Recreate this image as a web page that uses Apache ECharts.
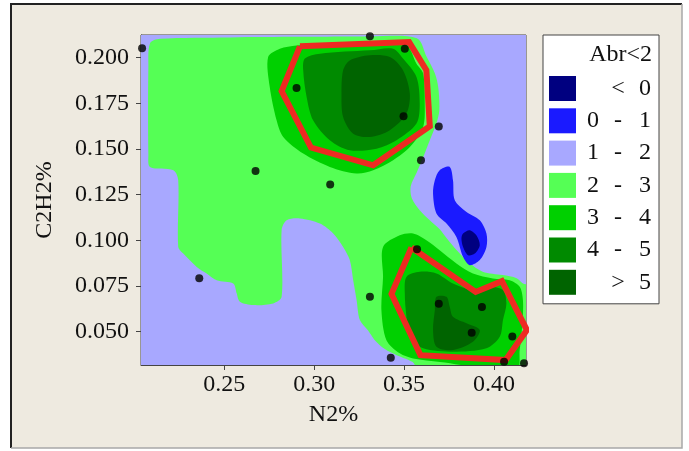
<!DOCTYPE html>
<html>
<head>
<meta charset="utf-8">
<script src="https://cdn.jsdelivr.net/npm/echarts@6/dist/echarts.min.js"></script>
<style>
  html, body { margin: 0; padding: 0; background: #fff; }
  #chart { width: 689px; height: 451px; }
</style>
</head>
<body>
<div id="chart"></div>
<script>
// axis ranges and tick labels
const xRange = [0.2037, 0.4178];
const yRange = [0.0318, 0.2124];
const xTicks = [0.25, 0.30, 0.35, 0.40];
const yTicks = [0.050, 0.075, 0.100, 0.125, 0.150, 0.175, 0.200];

// contour levels (legend order)
const levels = ['< 0', '0 - 1', '1 - 2', '2 - 3', '3 - 4', '4 - 5', '> 5'];
const levelColors = ['#000080', '#1A1AFF', '#A8A8FF', '#55FF55', '#00D000', '#008A00', '#006400'];
const legendLo = [' ', '0', '1', '2', '3', '4', ' '];
const legendMid = ['<', '-', '-', '-', '-', '-', '>'];
const legendHi = ['0', '1', '2', '3', '4', '5', '5'];

// contour regions, [N2%, C2H2%] outlines
const region12 = [[xRange[0], yRange[0]], [xRange[1], yRange[0]], [xRange[1], yRange[1]], [xRange[0], yRange[1]]];
const region23 = [[0.2087,0.2078],[0.2143,0.2103],[0.2532,0.2111],[0.2921,0.2114],[0.3309,0.2116],[0.3571,0.2106],[0.3626,0.2003],[0.3671,0.1914],[0.369,0.1838],[0.3696,0.1712],[0.368,0.1641],[0.3643,0.1548],[0.3604,0.1449],[0.3571,0.1373],[0.3537,0.1296],[0.3543,0.1231],[0.3587,0.1165],[0.3643,0.111],[0.3698,0.1061],[0.3737,0.1012],[0.3793,0.0946],[0.3865,0.0875],[0.3937,0.0829],[0.4048,0.081],[0.4126,0.0793],[0.4159,0.0766],[0.421,0.0744],[0.421,0.028],[0.3587,0.028],[0.3548,0.0334],[0.3459,0.0372],[0.3393,0.0405],[0.3337,0.0454],[0.3298,0.0509],[0.3254,0.0564],[0.3236,0.0673],[0.3217,0.0782],[0.3198,0.0892],[0.3161,0.0964],[0.3106,0.1038],[0.3032,0.1092],[0.2921,0.112],[0.2847,0.111],[0.2819,0.1056],[0.2819,0.0691],[0.2772,0.0655],[0.2661,0.0646],[0.2587,0.0664],[0.2569,0.071],[0.255,0.0764],[0.2458,0.0782],[0.2402,0.0819],[0.2347,0.0855],[0.2272,0.0928],[0.2244,0.0964],[0.2244,0.1329],[0.2217,0.1384],[0.2087,0.1402],[0.2078,0.1466],[0.2078,0.1949]];
const region34a = [[0.2744,0.2003],[0.2809,0.2049],[0.2902,0.2067],[0.3087,0.2078],[0.3309,0.2084],[0.3513,0.2067],[0.3569,0.1967],[0.3606,0.1913],[0.3615,0.175],[0.3606,0.1621],[0.3532,0.1511],[0.3439,0.1439],[0.3328,0.1384],[0.3236,0.1366],[0.3087,0.1402],[0.2939,0.1475],[0.2828,0.1566],[0.2791,0.1657],[0.2753,0.1839]];
const region34b = [[0.3383,0.0964],[0.3476,0.1028],[0.355,0.1038],[0.3624,0.1001],[0.3698,0.0946],[0.3791,0.0874],[0.3883,0.0819],[0.3994,0.0792],[0.4087,0.0782],[0.4143,0.0746],[0.4161,0.0673],[0.4158,0.0546],[0.4143,0.04],[0.4124,0.029],[0.37,0.0335],[0.355,0.0354],[0.3476,0.0382],[0.3402,0.0454],[0.3374,0.0618],[0.3383,0.08]];
const region45a = [[0.2948,0.1995],[0.3032,0.2022],[0.3309,0.204],[0.3439,0.2049],[0.3494,0.1995],[0.3569,0.1894],[0.3587,0.1749],[0.3569,0.1639],[0.3458,0.1548],[0.3347,0.1502],[0.3198,0.1493],[0.3087,0.1548],[0.2994,0.1657],[0.2958,0.1785],[0.2939,0.1931]];
const region45b = [[0.3513,0.08],[0.3587,0.0828],[0.368,0.0819],[0.3772,0.0764],[0.3883,0.0728],[0.3976,0.0746],[0.405,0.0728],[0.4069,0.0655],[0.405,0.0564],[0.4032,0.0472],[0.3958,0.0409],[0.3772,0.039],[0.3606,0.0409],[0.3532,0.0472],[0.3513,0.0582],[0.3504,0.071]];
const region5a = [[0.3198,0.1985],[0.3309,0.2013],[0.3421,0.2003],[0.3494,0.1931],[0.3532,0.1803],[0.3513,0.1694],[0.3421,0.1603],[0.3309,0.1566],[0.3217,0.1584],[0.3161,0.1675],[0.3152,0.1803],[0.3161,0.1931]];
const region5b = [[0.368,0.0691],[0.3736,0.0691],[0.3754,0.0636],[0.3772,0.0582],[0.3847,0.0546],[0.3921,0.0509],[0.3883,0.0445],[0.3772,0.04],[0.368,0.0418],[0.3661,0.0509],[0.3671,0.0618]];
const region01 = [[0.3698,0.1384],[0.3754,0.1402],[0.3772,0.1329],[0.3782,0.122],[0.3847,0.1156],[0.3921,0.111],[0.3958,0.1038],[0.3958,0.0964],[0.3921,0.0892],[0.3865,0.0864],[0.3828,0.091],[0.3791,0.1019],[0.3736,0.1092],[0.368,0.1147],[0.3661,0.1256],[0.3671,0.1329]];
const regionNeg = [[0.3828,0.1038],[0.3865,0.1056],[0.3902,0.1028],[0.3921,0.0974],[0.3893,0.0928],[0.3856,0.0919],[0.3828,0.0964],[0.3819,0.101]];

// red outlines
const outlineUpper = [[0.2921,0.2062],[0.3528,0.2085],[0.3624,0.1931],[0.3643,0.1625],[0.3328,0.1411],[0.2982,0.1508],[0.2819,0.1817]];
const outlineLower = [[0.3541,0.0961],[0.3898,0.0718],[0.4044,0.0777],[0.4183,0.0509],[0.4065,0.0345],[0.3591,0.0372],[0.343,0.0707]];

// sample points
const samples = [[0.2043,0.2051],[0.331,0.2117],[0.3504,0.2049],[0.2902,0.1834],[0.3497,0.1679],[0.3693,0.1623],[0.3594,0.1439],[0.2674,0.138],[0.3089,0.1306],[0.2361,0.0793],[0.331,0.0691],[0.3572,0.0952],[0.3693,0.0653],[0.3933,0.0635],[0.3876,0.0494],[0.4102,0.0474],[0.3426,0.0358],[0.4056,0.0336],[0.4167,0.0327]];

// draw order: back to front
const drawOrder = [
  ['1 - 2', [region12]],
  ['2 - 3', [region23]],
  ['3 - 4', [region34a, region34b]],
  ['4 - 5', [region45a, region45b]],
  ['> 5', [region5a, region5b]],
  ['0 - 1', [region01]],
  ['< 0', [regionNeg]]
];

const font = '"Liberation Serif", "Times New Roman", serif';
const fontSize = 24;

function regionSeries(name, polys) {
  const color = levelColors[levels.indexOf(name)];
  return {
    type: 'custom',
    name: name,
    clip: true,
    silent: true,
    itemStyle: { color: color },
    data: polys.map(p => p[0]),
    renderItem: (params, api) => ({
      type: 'polygon',
      shape: {
        points: polys[params.dataIndex].map(p => api.coord(p)),
        smooth: name === '1 - 2' ? 0 : 0.3
      },
      style: { fill: color }
    })
  };
}

function outlineSeries(pts) {
  return {
    type: 'line',
    data: pts.concat([pts[0]]),
    symbol: 'none',
    clip: false,
    silent: true,
    z: 5,
    lineStyle: { color: '#EE2A22', width: 6, join: 'miter' }
  };
}

const chart = echarts.init(document.getElementById('chart'));
chart.setOption({
  backgroundColor: '#fff',
  animation: false,
  grid: { left: 141, right: 163, top: 35, bottom: 86, show: true, borderColor: '#444', borderWidth: 1 },
  xAxis: {
    type: 'value', min: xRange[0], max: xRange[1],
    name: 'N2%', nameLocation: 'middle', nameGap: 38,
    nameTextStyle: { fontFamily: font, fontSize: fontSize, color: '#111' },
    axisLine: { show: true, lineStyle: { color: '#444' } },
    axisTick: { show: true, length: 5, customValues: xTicks, lineStyle: { color: '#444' } },
    axisLabel: { customValues: xTicks, margin: 8, fontFamily: font, fontSize: fontSize, color: '#111', formatter: v => v.toFixed(2) },
    splitLine: { show: false }
  },
  yAxis: {
    type: 'value', min: yRange[0], max: yRange[1],
    name: 'C2H2%', nameLocation: 'middle', nameGap: 84,
    nameTextStyle: { fontFamily: font, fontSize: fontSize, color: '#111' },
    axisLine: { show: true, lineStyle: { color: '#444' } },
    axisTick: { show: true, length: 5, customValues: yTicks, lineStyle: { color: '#444' } },
    axisLabel: { customValues: yTicks, margin: 12, fontFamily: font, fontSize: fontSize, color: '#111', formatter: v => v.toFixed(3) },
    splitLine: { show: false }
  },
  legend: {
    data: levels,
    orient: 'vertical',
    left: 543, top: 35,
    padding: [41, 8, 9, 6],
    itemWidth: 27, itemHeight: 25, itemGap: 7.3,
    icon: 'rect',
    selectedMode: false,
    backgroundColor: '#fff',
    borderColor: '#444', borderWidth: 1,
    formatter: name => {
      const i = levels.indexOf(name);
      return '{lo|' + legendLo[i] + '}{d|' + legendMid[i] + '}{hi|' + legendHi[i] + '}';
    },
    textStyle: {
      fontFamily: font, fontSize: fontSize, color: '#111',
      rich: {
        lo: { width: 24, align: 'center', fontFamily: font, fontSize: fontSize, color: '#111' },
        d: { width: 26, align: 'center', fontFamily: font, fontSize: fontSize, color: '#111' },
        hi: { width: 28, align: 'center', fontFamily: font, fontSize: fontSize, color: '#111' }
      }
    }
  },
  graphic: [
    { type: 'rect', shape: { x: 11, y: 4, width: 671, height: 444 }, style: { fill: '#EEEAE0' }, z: -10 },
    { type: 'polyline', shape: { points: [[11, 448], [11, 4], [682, 4]] }, style: { fill: null, stroke: '#222', lineWidth: 2 }, z: -9 },
    { type: 'polyline', shape: { points: [[682, 4], [682, 448], [11, 448]] }, style: { fill: null, stroke: '#A8A8A8', lineWidth: 1.5 }, z: -9 },
    { type: 'text', right: 37, top: 43, style: { text: 'Abr<2', font: fontSize + 'px ' + font, fill: '#111' }, z: 10 }
  ],
  series: drawOrder.map(d => regionSeries(d[0], d[1])).concat([
    outlineSeries(outlineUpper),
    outlineSeries(outlineLower),
    {
      type: 'scatter', data: samples, symbolSize: 8, clip: false, silent: true, z: 6,
      itemStyle: { color: '#000' }
    }
  ])
});
</script>
</body>
</html>
